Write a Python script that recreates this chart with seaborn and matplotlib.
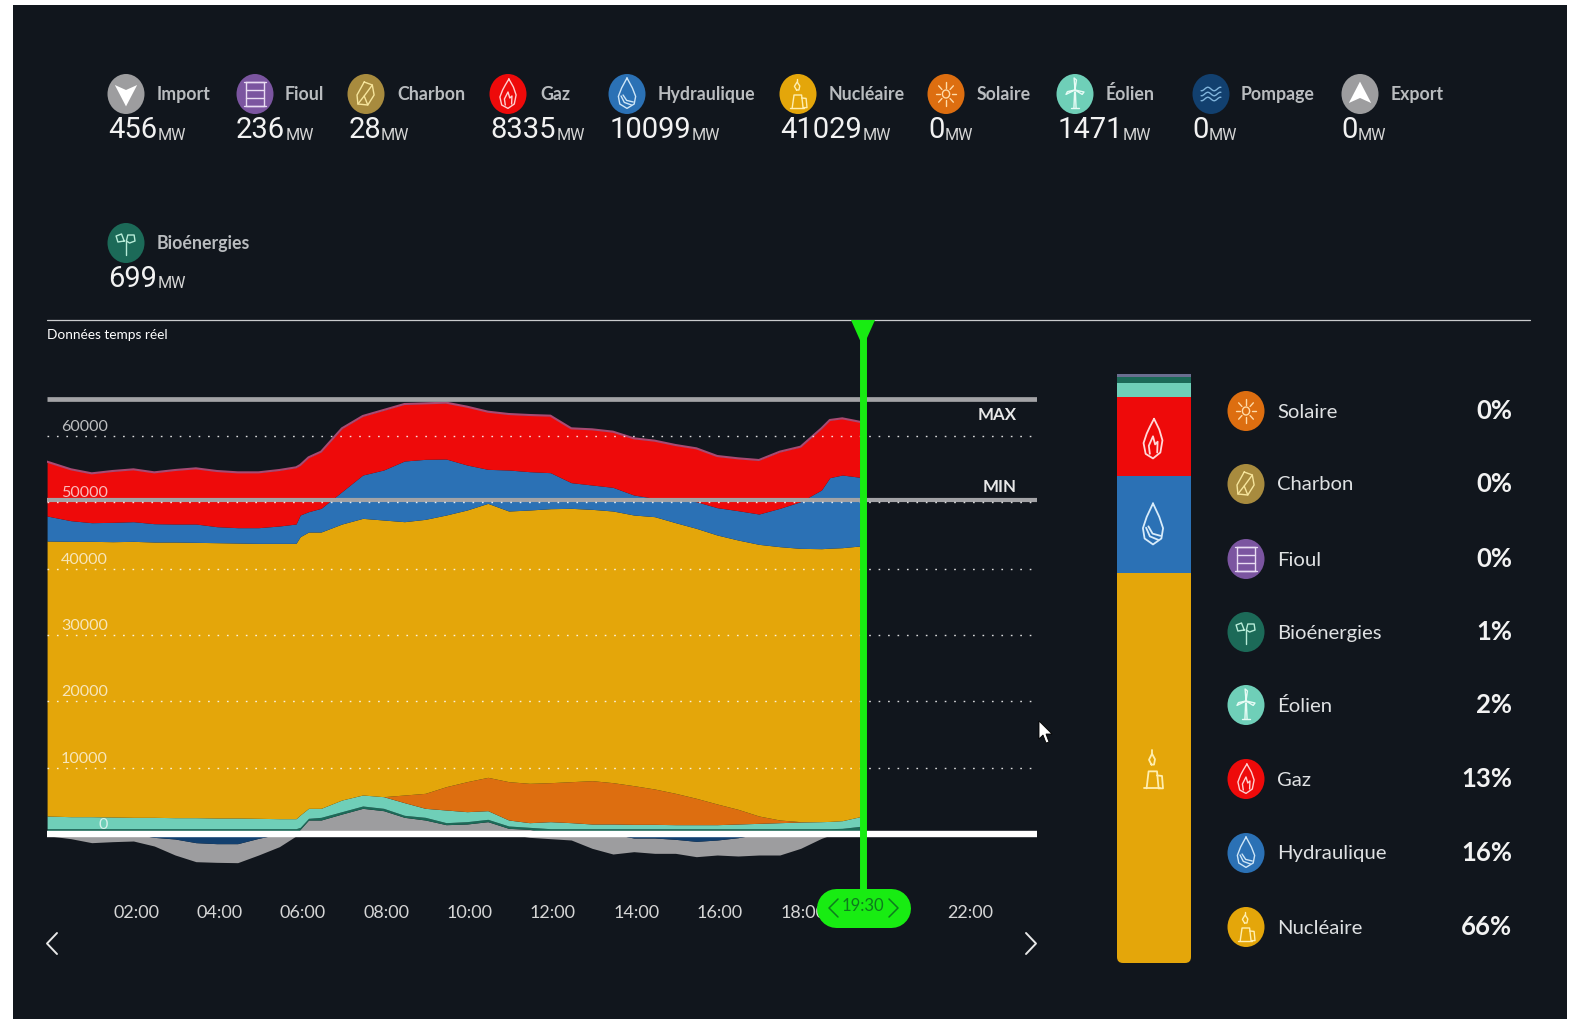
import numpy as np
import pandas as pd
import matplotlib
matplotlib.use("Agg")
import matplotlib.pyplot as plt
from matplotlib.patches import Ellipse, Polygon, FancyBboxPatch, Rectangle
import seaborn as sns

# ---------- data: cumulative stack levels, MW ----------
hours = np.sort(np.r_[np.arange(0, 20, 0.5), 5.9, 6.2, 18.7])
hours[0] = -0.07
top_import = [0]*13 + [703,2110,2110,3015,3870,3517,2512,2110,1406,1507,1859,853,703] + [0]*16 + [456]
top_bio = [800]*13 + [1004,2362,2512,3367,4221,3870,2814,2512,1708,1859,2211,1205,1004] + [800]*15 + [853,1205]
top_eolien = [2713,2613,2613,2563,2512,2512,2462,2462,2412,2412,2362,2311,2311,2864,3870,3870,5126,5881,5629,4724,
              3870,3618,3367,3518,2110,1708,1859,1708,1507,1507,1457,1457,1406,1406,1406,1507,1607,1708,1808,1859,1900,2010,2713]
top_solaire = [2713,2613,2613,2563,2512,2512,2462,2462,2412,2412,2362,2311,2311,2864,3870,3870,5126,5881,5629,5880,
               6132,7137,7891,8545,7891,7640,7740,7891,8042,7740,7288,6785,6132,5378,4523,3719,2713,2110,1859,1859,1900,2010,2713]
top_nucleaire = [44183,44132,44132,44082,44132,44031,44031,43981,43931,43880,43830,43830,43830,44836,45540,45540,46746,47601,47349,47098,
                 47450,48104,48859,49859,48707,48858,49059,49109,48958,48707,48104,47853,46947,46092,45086,44333,43680,43328,43076,43026,43100,43177,43479]
top_hydro = [47953,47249,46947,46998,47098,46796,46746,46746,46344,46193,46193,46445,46746,48104,48606,49109,51623,54136,54890,56247,
             56499,56549,55644,54991,54890,54639,54488,52980,52628,52276,51120,50617,50366,50114,49210,48757,48254,49109,50114,51874,53735,54136,53735]
top_gaz = [56147,55000,54388,54740,54991,54538,54890,55142,54740,54538,54538,54890,55292,55644,56800,57655,61174,63034,63939,64844,
           64944,65045,64442,63687,63335,63185,63084,61174,61023,60671,59668,59314,58660,58158,57001,56650,56398,57655,58409,61174,62430,62682,62065]
low_pompage = [0]*5 + [-504,-756,-1308,-1458,-1458,-655] + [0]*19 + [-605,-605,-806,-1107,-906,-555] + [0]*7
low_export = [-253,-705,-1308,-1157,-1057,-1811,-3168,-4174,-4274,-4324,-3168,-1911,-300] + [0]*12 + \
             [-504,-705,-906,-2163,-3018,-2666,-2917,-2917,-3420,-3168,-3319,-3168,-3168,-2163,-655,-200,0,0]
y_ticks = [0,10000,20000,30000,40000,50000,60000]
x_hours = [2,4,6,8,10,12,14,16,18,22]
x_labels = ["02:00","04:00","06:00","08:00","10:00","12:00","14:00","16:00","18:00","22:00"]
max_level = 65600
min_level = 50370
now_hour = 19.5
now_label = "19:30"

bar_names = ["Nucléaire","Hydraulique","Gaz","Éolien","Bioénergies","Fioul et charbon"]
bar_values = [41029,10099,8335,1471,699,264]

top_names = ["Import","Fioul","Charbon","Gaz","Hydraulique","Nucléaire","Solaire","Éolien","Pompage","Export","Bioénergies"]
top_values = ["456","236","28","8335","10099","41029","0","1471","0","0","699"]
side_names = ["Solaire","Charbon","Fioul","Bioénergies","Éolien","Gaz","Hydraulique","Nucléaire"]
side_pcts = ["0%","0%","0%","1%","2%","13%","16%","66%"]

# ---------- style ----------
BG = "#11161d"
C = dict(Import="#9d9d9f", Fioul="#7b55a0", Charbon="#a88b3e", Gaz="#ee0a0a", Hydraulique="#2b71b5",
         Nucléaire="#e4a60a", Solaire="#dd6e10", Éolien="#6fcfb8", Pompage="#12406f", Export="#9d9d9f",
         Bioénergies="#1c6a58")
W, H = 1578, 1019
sns.set_theme(style="dark", rc={"axes.facecolor": BG, "figure.facecolor": "white"})
plt.rcParams["font.family"] = ["Lato", "DejaVu Sans"]
fig = plt.figure(figsize=(W/100, H/100), dpi=100)

def px_axes(x0, y0, x1, y1, **k):
    return fig.add_axes([x0/W, 1-y1/H, (x1-x0)/W, (y1-y0)/H], **k)

# panel background
bg = px_axes(0, 0, W, H)
bg.set_xlim(0, W); bg.set_ylim(H, 0); bg.axis("off")
bg.add_patch(Rectangle((13, 5), 1554, 1014, fc=BG, ec="none"))
bg.add_patch(Ellipse((1338, 1), 23, 13, fc="#eeeeee", ec="none", zorder=-1))
bg.add_patch(Ellipse((1426, 1), 23, 13, fc="#eeeeee", ec="none", zorder=-1))
bg.add_patch(Rectangle((0, 0), W, 5, fc="white", ec="none", zorder=-0.5))
bg.plot([47, 1530], [320, 320], color="#c9cbcd", lw=0.9)
bg.text(47, 335, "Données temps réel", color="white", fontsize=9.8, va="center", ha="left")

# ---------- main chart ----------
px_h = 41.7
x_left, x_right = 47, 1037
ax = px_axes(x_left, 380, x_right, 900)
ax.patch.set_alpha(0)
ax.set_xlim((x_left-50)/px_h, (x_right-50)/px_h)
ax.set_ylim((834-900)*150.8, (834-380)*150.8)
sns.despine(ax=ax, left=True, bottom=True, top=True, right=True)

ax.fill_between(hours, 0, top_import, color=C["Import"], lw=0)
ax.fill_between(hours, top_import, top_bio, color=C["Bioénergies"], lw=0)
ax.fill_between(hours, top_bio, top_eolien, color=C["Éolien"], lw=0)
ax.fill_between(hours, top_eolien, top_solaire, color=C["Solaire"], lw=0)
ax.fill_between(hours, top_solaire, top_nucleaire, color=C["Nucléaire"], lw=0)
ax.fill_between(hours, top_nucleaire, top_hydro, color=C["Hydraulique"], lw=0)
ax.fill_between(hours, top_hydro, top_gaz, color=C["Gaz"], lw=0)
ax.fill_between(hours, low_pompage, low_export, color=C["Export"], lw=0)
ax.fill_between(hours, 0, low_pompage, color=C["Pompage"], lw=0)
df = pd.DataFrame({"h": hours, "top": top_gaz})
sns.lineplot(data=df, x="h", y="top", ax=ax, color="#a84a72", lw=1.5, legend=False, errorbar=None)

for v in y_ticks[1:]:
    ax.plot([(x_left-50)/px_h, (1033-50)/px_h], [v, v], color="white", lw=1.0, alpha=0.85,
            ls=(0, (1.2, 5.6)), zorder=6)
for v in y_ticks:
    ax.annotate(str(v), (0, v), xytext=(108-50, 9), textcoords="offset pixels", ha="right", va="center",
                color="white", alpha=0.72, fontsize=11.6, zorder=7)
ax.plot(ax.get_xlim(), [max_level]*2, color="#a3a3a6", lw=3.4, zorder=5, solid_capstyle="butt")
ax.plot(ax.get_xlim(), [min_level]*2, color="#a3a3a6", lw=3.0, zorder=5, solid_capstyle="butt")
ax.plot(ax.get_xlim(), [0, 0], color="white", lw=4.6, zorder=5, solid_capstyle="butt")
ax.annotate("MAX", (1, max_level), xycoords=("axes fraction", "data"), xytext=(-20, -16), textcoords="offset pixels",
            ha="right", va="center", color="#e8e8e8", fontsize=12.2, fontweight="bold")
ax.annotate("MIN", (1, min_level), xycoords=("axes fraction", "data"), xytext=(-20, 13), textcoords="offset pixels",
            ha="right", va="center", color="#e8e8e8", fontsize=12.2, fontweight="bold")

ax.set_xlabel(""); ax.set_ylabel("")
ax.set_yticks([])
ax.set_xticks(np.array(x_hours) + 2.6/px_h)
ax.set_xticklabels(x_labels, color="#d6d6d6", fontsize=13)
ax.tick_params(axis="x", length=0, pad=3.5)
ax.grid(False)

# "now" cursor
GREEN = "#18ec12"
ax.plot([now_hour, now_hour], [(834-320)*150.8, (834-890)*150.8], color=GREEN, lw=5.0, zorder=8, clip_on=False,
        solid_capstyle="butt")

# ---------- stacked share bar ----------
bx = px_axes(1117, 374, 1191, 963)
bx.set_xlim(-0.5, 0.5); bx.set_ylim(0, sum(bar_values)); bx.axis("off")
clip = FancyBboxPatch((1117, 376), 74, 587, boxstyle="round,pad=0,rounding_size=6", transform=bg.transData, fc="none", ec="none")
bg.add_patch(clip)
bar_cols = [C["Nucléaire"], C["Hydraulique"], C["Gaz"], C["Éolien"], C["Bioénergies"], "#6a6e90"]
b = 0
for v, col in zip(bar_values, bar_cols):
    r = bx.bar(0, v, bottom=b, width=1.0, color=col, lw=0)[0]
    b += v
for r in bx.patches[:1]:
    r.set_clip_path(clip)

# ---------- overlay with icons ----------
ov = px_axes(0, 0, W, H)
ov.set_xlim(0, W); ov.set_ylim(H, 0); ov.axis("off"); ov.patch.set_alpha(0)

t = np.linspace(0, 2*np.pi, 30)
ICONS = {
 "Fioul": [[(-.5,-.6),(.5,-.6),(.5,.6),(-.5,.6),(-.5,-.6)], [(-.6,-.6),(.6,-.6)], [(-.6,.6),(.6,.6)],
           [(-.5,-.2),(.5,-.2)], [(-.5,.2),(.5,.2)]],
 "Charbon": [[(-.1,-.6),(.35,-.45),(.45,.05),(.1,.55),(-.45,.5),(-.5,.05),(-.1,-.6)], [(.35,-.45),(-.1,.1),(-.45,.5)], [(-.1,.1),(.1,.55)]],
 "Gaz": [[(.05,-.75),(.3,-.35),(.45,.05),(.35,.5),(0,.72),(-.35,.55),(-.45,.15),(-.3,-.2),(-.15,-.45),(.05,-.75)],
         [(-.15,.55),(-.2,.25),(0,-.1),(.1,.2),(.22,.1),(.2,.5)]],
 "Hydraulique": [[(0,-.8),(.3,-.3),(.48,.12),(.4,.5),(0,.72),(-.4,.5),(-.48,.12),(-.3,-.3),(0,-.8)],
                 [(-.33,.1),(-.15,.42),(.25,.55)], [(-.22,.05),(-.02,.32),(.35,.4)]],
 "Nucléaire": [[(-.45,.68),(.35,.68)], [(-.32,.68),(-.22,.05),(.2,.05),(.28,.68)], [(.2,.2),(.45,.22),(.5,.68),(.3,.68)],
               [(-.08,-.2),(-.2,-.38),(-.05,-.6),(.1,-.4),(.05,-.2),(-.08,-.2)], [(-.05,-.6),(-.05,-.75)]],
 "Solaire": [[(.2*np.cos(a),.2*np.sin(a)) for a in t]] + [[(.32*np.cos(a),.32*np.sin(a)),(.58*np.cos(a),.58*np.sin(a))] for a in np.arange(8)*np.pi/4],
 "Éolien": [[(-.06,.7),(-.02,-.1),(.02,-.1),(.06,.7)], [(-.2,.7),(.2,.7)], [(0,-.2),(-.05,-.8),(.08,-.7),(0,-.2)],
            [(0,-.2),(.5,-.1),(.4,.02),(0,-.2)], [(0,-.2),(-.5,.02),(-.42,-.12),(0,-.2)]],
 "Pompage": [[(x,y0+.09*np.sin(x*9)) for x in np.linspace(-.55,.55,16)] for y0 in (-.25,0,.25)],
 "Bioénergies": [[(.02,.6),(.02,-.1)], [(.02,-.1),(.1,-.4),(.45,-.4),(.5,-.1),(.2,0),(.02,-.1)], [(-.1,-.1),(-.45,-.05),(-.55,-.35),(-.25,-.45),(-.1,-.1)]],
}
ARROWS = {"Import": [(-.62,-.45),(0,-.2),(.62,-.45),(0,.62)], "Export": [(-.62,.45),(0,.2),(.62,.45),(0,-.62)]}
LIGHT = {"Fioul":"#e9dcf3","Charbon":"#f6e59c","Gaz":"#ffd0d0","Hydraulique":"#cfe6f7","Nucléaire":"#ffeeb0",
         "Solaire":"#ffdba8","Éolien":"#e6fbf5","Pompage":"#7fb4dc","Bioénergies":"#b8ecd8"}

def glyph(name, cx, cy, sx, sy, lw=1.0, color=None):
    col = color or LIGHT.get(name, "white")
    if name in ARROWS:
        ov.add_patch(Polygon([(cx+x*sx, cy+y*sy) for x, y in ARROWS[name]], fc="white", ec="none", zorder=10))
        return
    for pl in ICONS[name]:
        ov.plot([cx+p[0]*sx for p in pl], [cy+p[1]*sy for p in pl], color=col, lw=lw, zorder=10)

def badge(name, cx, cy):
    ov.add_patch(Ellipse((cx, cy), 37, 40, fc=C[name], ec="none", zorder=9))
    glyph(name, cx, cy, 18, 20)

icon_x = [126,255,366,508,627,798,946,1075,1211,1360,126]
label_x = [157,285,397,540,658,829,977,1106,1241,1391,157]
value_x = [108,236,349,490,610,780,928,1058,1192,1341,108]
unit_x = [158,286,381,557,692,863,945,1123,1209,1358,158]
row_y = [94]*10 + [243]
for n, v, ix, lx, vx, ux, y in zip(top_names, top_values, icon_x, label_x, value_x, unit_x, row_y):
    badge(n, ix, y)
    ov.text(lx, y, n, color="#b9bcbf", fontsize=12.8, fontweight="bold", ha="left", va="center")
    ov.text(vx, y+36, v, color="#f2f2f2", fontsize=21, ha="left", va="center", fontfamily="Roboto")
    ov.text(ux, y+41, "MW", color="#d5d5d5", fontsize=11.6, ha="left", va="center", fontfamily="Roboto")

side_y = [411,484,559,632,705,779,853,927]
for n, p, y in zip(side_names, side_pcts, side_y):
    badge(n, 1246, y)
    ov.text(1277, y+1, n, color="#dfe1e3", fontsize=14.6, ha="left", va="center")
    ov.text(1512, y, p, color="#f2f2f2", fontsize=18.5, fontweight="bold", ha="right", va="center")

glyph("Gaz", 1153, 439, 21, 27, lw=1.3, color="#ffd9d9")
glyph("Hydraulique", 1153, 525, 21, 27, lw=1.3, color="#d8ecfa")
glyph("Nucléaire", 1153, 770, 20, 27, lw=1.3, color="#ffeeb0")

# cursor head, pill, chevrons
ov.add_patch(Polygon([(851,320),(875,320),(863,347)], fc=GREEN, ec="none", zorder=11))
ov.plot([836, 891], [907.5, 907.5], color=GREEN, lw=39*0.72, solid_capstyle="round", zorder=11)
ov.text(863, 906, now_label, color="#0d7c1d", fontsize=12, ha="center", va="center", zorder=12)
for xs in ([838,829,838], [889,898,889]):
    ov.plot(xs, [899,908,917], color="#0d7c1d", lw=1.1, zorder=12)
ov.plot([57,47,57], [933,943.5,954], color="#e8e8e8", lw=1.4, zorder=12)
ov.plot([1026,1036,1026], [933,943.5,954], color="#e8e8e8", lw=1.4, zorder=12)

# mouse pointer
ov.add_patch(Polygon([(1039,721),(1039,739),(1043,735),(1046,743),(1049,742),(1046,734),(1052,734)],
                     fc="white", ec="black", lw=0.6, zorder=12))

fig.savefig("out.png", dpi=100)
